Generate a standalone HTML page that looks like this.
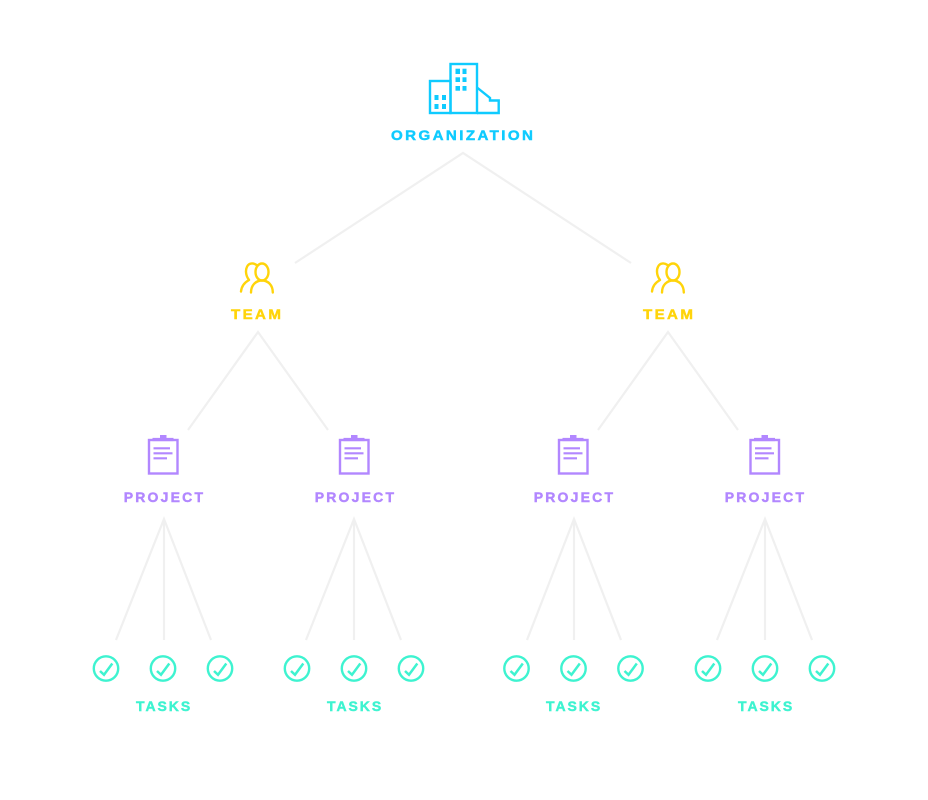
<!DOCTYPE html>
<html>
<head>
<meta charset="utf-8">
<style>
html,body{margin:0;padding:0;background:#fff;width:928px;height:800px;overflow:hidden}
svg{display:block}
text{font-family:"Liberation Sans",sans-serif;font-weight:700;font-size:14px;stroke-width:.45px}
.o{letter-spacing:2.22px;fill:#0fcbff;stroke:#0fcbff}
.t{letter-spacing:2.2px;fill:#ffd40a;stroke:#ffd40a}
.p{letter-spacing:2.2px;fill:#b287ff;stroke:#b287ff}
.k{letter-spacing:1.95px;fill:#3ef3d0;stroke:#3ef3d0}
</style>
</head>
<body>
<svg width="928" height="800" viewBox="0 0 928 800" xmlns="http://www.w3.org/2000/svg">
<defs>
<g id="team" fill="none" stroke="#ffd40a" stroke-width="2.4" stroke-linecap="round" stroke-linejoin="round">
<ellipse cx="262" cy="272" rx="6.5" ry="8.5"/>
<path d="M251 292.5 C251 285 256 280.5 262 280.5 C268 280.5 272.8 285 272.8 292.5"/>
<path d="M256.5 265 C254.5 263.5 252.5 263.3 251 263.6 C247.5 264.2 245.8 268 246 272 C246.2 275.5 247.5 278 249 280 C244.5 282.5 241.5 286.5 241 291.5"/>
</g>
<g id="project" fill="none" stroke="#b287ff" stroke-width="2.4">
<rect x="149" y="440" width="28.5" height="33.5"/>
<path d="M152.5 439.5 H173.5" stroke-width="3.2"/>
<rect x="160" y="435" width="6.5" height="3.5" fill="#b287ff" stroke="none"/>
<path d="M153.5 448.3 H170 M153.5 453.3 H172.5 M153.5 458.3 H167" stroke-width="2.2"/>
</g>
<g id="task" fill="none" stroke="#3ef3d0">
<circle cx="0" cy="0" r="12.2" stroke-width="2.4"/>
<path d="M-6 2.5 L-2 6.3 L6.3 -5" stroke-width="2.5"/>
</g>
</defs>

<g fill="none" stroke="#f0f0f0" stroke-width="2.2">
<path d="M295 263 L463 153 L631 263"/>
<path d="M188 430 L258 332 L328 430"/>
<path d="M598 430 L668 332 L738 430"/>
<path d="M116 640 L164 519 L211 640 M164 519 V640"/>
<path d="M306 640 L354 519 L401 640 M354 519 V640"/>
<path d="M527 640 L574 519 L621 640 M574 519 V640"/>
<path d="M717 640 L765 519 L812 640 M765 519 V640"/>
</g>

<!-- Organization -->
<g fill="none" stroke="#0fcbff" stroke-width="2.4">
<rect x="430" y="81" width="20.5" height="32"/>
<rect x="450.5" y="64" width="26.5" height="49"/>
<path d="M477 87.5 L490 98 V100.5 H498.7 V113 H477"/>
</g>
<g fill="#0fcbff">
<rect x="455.5" y="68.7" width="4.5" height="5.3"/><rect x="462.5" y="68.7" width="4" height="5.3"/>
<rect x="455.5" y="77.3" width="4.5" height="4.7"/><rect x="462.5" y="77.3" width="4" height="4.7"/>
<rect x="455.5" y="86" width="4.5" height="4.7"/><rect x="462.5" y="86" width="4" height="4.7"/>
<rect x="434.5" y="95" width="4" height="5"/><rect x="442" y="95" width="4" height="5"/>
<rect x="434.5" y="104" width="4" height="5"/><rect x="442" y="104" width="4" height="5"/>
</g>
<text class="o" transform="translate(391 140) scale(1.08 1)">ORGANIZATION</text>

<!-- Teams -->
<text class="t" transform="translate(231 319) scale(1.08 1)">TEAM</text>
<text class="t" transform="translate(643 319) scale(1.08 1)">TEAM</text>
<use href="#team"/>
<use href="#team" x="411"/>

<!-- Projects -->
<use href="#project"/>
<use href="#project" x="191"/>
<use href="#project" x="410"/>
<use href="#project" x="601.5"/>
<text class="p" x="123.7" y="502">PROJECT</text>
<text class="p" x="314.7" y="502">PROJECT</text>
<text class="p" x="533.7" y="502">PROJECT</text>
<text class="p" x="724.7" y="502">PROJECT</text>

<!-- Tasks -->
<use href="#task" x="106" y="668.5"/><use href="#task" x="163" y="668.5"/><use href="#task" x="220" y="668.5"/>
<use href="#task" x="297" y="668.5"/><use href="#task" x="354" y="668.5"/><use href="#task" x="411" y="668.5"/>
<use href="#task" x="516.5" y="668.5"/><use href="#task" x="573.5" y="668.5"/><use href="#task" x="630.5" y="668.5"/>
<use href="#task" x="708" y="668.5"/><use href="#task" x="765" y="668.5"/><use href="#task" x="822" y="668.5"/>
<text class="k" x="136" y="711">TASKS</text>
<text class="k" x="327" y="711">TASKS</text>
<text class="k" x="546" y="711">TASKS</text>
<text class="k" x="738" y="711">TASKS</text>
</svg>
</body>
</html>
